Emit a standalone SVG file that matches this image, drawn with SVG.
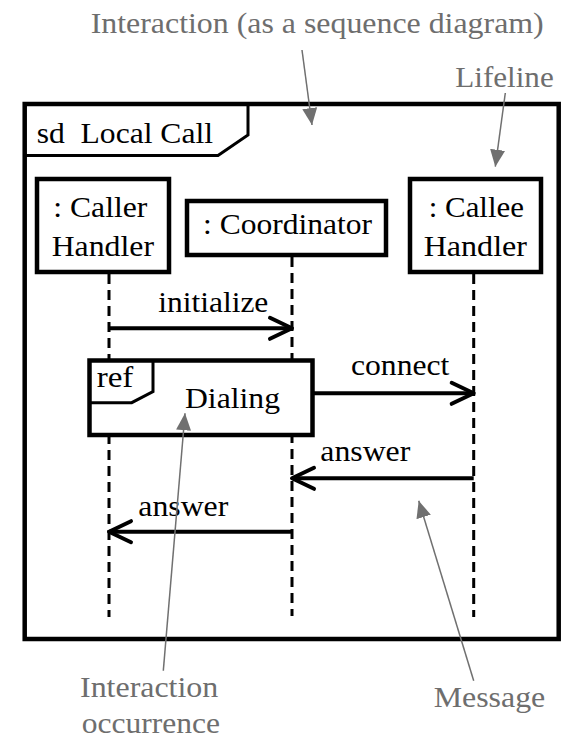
<svg xmlns="http://www.w3.org/2000/svg" width="567" height="739" viewBox="0 0 567 739" font-family="Liberation Serif, DejaVu Serif, Noto Serif, serif" font-size="30">
<style>
.bg{fill:#ffffff}
.box{fill:#ffffff;stroke:#000;stroke-width:4.5}
.tab{fill:none;stroke:#000;stroke-width:3;stroke-linejoin:miter}
.t{fill:#000}
.g{fill:#6e6e6e}
.life{fill:none;stroke:#000;stroke-width:3;stroke-dasharray:10 6}
.msg{fill:none;stroke:#000;stroke-width:4}
.ptr{fill:none;stroke:#707070;stroke-width:1.5}
</style>
<defs>
<marker id="open" markerUnits="userSpaceOnUse" viewBox="-4 -4 30 29" markerWidth="30" markerHeight="29" refX="22" refY="10.5" orient="auto">
<path d="M0,0 L22,10.5 L0,21" fill="none" stroke="#000" stroke-width="4" stroke-linejoin="round" stroke-linecap="round"/>
</marker>
<marker id="solid" markerUnits="userSpaceOnUse" viewBox="0 0 17 15" markerWidth="17" markerHeight="15" refX="17" refY="7.5" orient="auto">
<path d="M0,0 L17,7.5 L0,15 z" fill="#707070"/>
</marker>
</defs>
<rect class="bg" x="0" y="0" width="567" height="739"/>

<g id="frame">
<rect class="box" x="24.7" y="104" width="534" height="535" fill="none"/>
<path class="tab" d="M24.7,155.5 L218,155.5 L248,135 L248,104"/>
<text class="t" font-family="Liberation Serif" x="36.7" y="142.7" textLength="176.3" lengthAdjust="spacingAndGlyphs" xml:space="preserve">sd  Local Call</text>
</g>

<g id="lifelines">
<line class="life" x1="109" y1="274" x2="109" y2="617"/>
<line class="life" x1="292" y1="257" x2="292" y2="616"/>
<line class="life" x1="473.7" y1="274" x2="473.7" y2="617"/>
</g>

<g id="caller">
<rect class="box" x="37" y="179" width="132" height="93"/>
<text class="t" x="53.3" y="217" textLength="94" lengthAdjust="spacingAndGlyphs">: Caller</text>
<text class="t" x="51.7" y="256" textLength="102.3" lengthAdjust="spacingAndGlyphs">Handler</text>
</g>

<g id="coordinator">
<rect class="box" x="187" y="201" width="199" height="54"/>
<text class="t" x="203" y="234" textLength="169" lengthAdjust="spacingAndGlyphs">: Coordinator</text>
</g>

<g id="callee">
<rect class="box" x="410" y="179" width="131" height="93"/>
<text class="t" x="428.7" y="217" textLength="95.3" lengthAdjust="spacingAndGlyphs">: Callee</text>
<text class="t" x="423.7" y="256" textLength="103.3" lengthAdjust="spacingAndGlyphs">Handler</text>
</g>

<g id="ref-dialing">
<rect class="box" x="89.5" y="360.5" width="223" height="74.5"/>
<path class="tab" d="M89.5,402.7 L131.7,402.7 L153,391.7 L153,360.5"/>
<text class="t" x="96.7" y="386.7" textLength="36.7" lengthAdjust="spacingAndGlyphs">ref</text>
<text class="t" x="185" y="408.3" textLength="95" lengthAdjust="spacingAndGlyphs">Dialing</text>
</g>

<g id="connectors">
<line class="msg" x1="109" y1="328.3" x2="292" y2="328.3" marker-end="url(#open)"/>
<text class="t" x="158.3" y="311.7" textLength="110" lengthAdjust="spacingAndGlyphs">initialize</text>
<line class="msg" x1="312.5" y1="393.3" x2="473.7" y2="393.3" marker-end="url(#open)"/>
<text class="t" x="351" y="375" textLength="98.3" lengthAdjust="spacingAndGlyphs">connect</text>
<line class="msg" x1="473.7" y1="478.3" x2="292" y2="478.3" marker-end="url(#open)"/>
<text class="t" x="320.3" y="460.7" textLength="90" lengthAdjust="spacingAndGlyphs">answer</text>
<line class="msg" x1="292" y1="531.7" x2="109" y2="531.7" marker-end="url(#open)"/>
<text class="t" x="138.3" y="515.7" textLength="90" lengthAdjust="spacingAndGlyphs">answer</text>
</g>

<g id="annotations">
<text class="g" x="90.7" y="33" textLength="453" lengthAdjust="spacingAndGlyphs">Interaction (as a sequence diagram)</text>
<line class="ptr" x1="302" y1="50" x2="312" y2="125" marker-end="url(#solid)"/>
<text class="g" x="455.3" y="87.3" textLength="98.4" lengthAdjust="spacingAndGlyphs">Lifeline</text>
<line class="ptr" x1="505.3" y1="93" x2="495.3" y2="166.7" marker-end="url(#solid)"/>
<text class="g" x="80" y="697.3" textLength="138.3" lengthAdjust="spacingAndGlyphs">Interaction</text>
<text class="g" x="81.7" y="733" textLength="138.3" lengthAdjust="spacingAndGlyphs">occurrence</text>
<line class="ptr" x1="163.3" y1="670.7" x2="185" y2="413.3" marker-end="url(#solid)"/>
<text class="g" x="433.7" y="707.3" textLength="111.6" lengthAdjust="spacingAndGlyphs">Message</text>
<line class="ptr" x1="473.7" y1="680.7" x2="418.7" y2="500.7" marker-end="url(#solid)"/>
</g>
</svg>
